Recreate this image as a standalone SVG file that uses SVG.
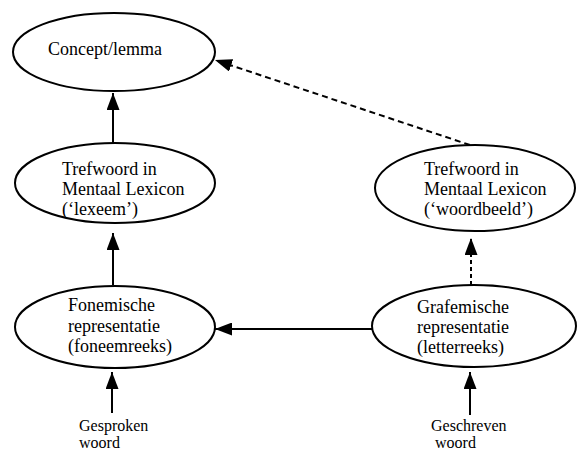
<svg xmlns="http://www.w3.org/2000/svg" width="584" height="454" viewBox="0 0 584 454">
<style>
.node ellipse{fill:#fff;stroke:#000;stroke-width:2}
text{font-family:"Liberation Serif","Times New Roman",serif;font-size:18px;fill:#000}
text.lbl{font-size:16px}
.edge{stroke:#000;stroke-width:2;fill:none}
.dash{stroke-dasharray:6 4}
.dot{stroke-dasharray:4 3}
</style>
<defs>
<marker id="ah" markerUnits="userSpaceOnUse" markerWidth="18" markerHeight="13" refX="17" refY="6.5" orient="auto">
<path d="M0,0 L17,6.5 L0,13 z" fill="#000"/>
</marker>
</defs>
<rect width="584" height="454" fill="#fff"/>
<g id="connectors">
<line class="edge" x1="113" y1="143" x2="113" y2="93" marker-end="url(#ah)"/>
<line class="edge" x1="113" y1="285" x2="113" y2="233" marker-end="url(#ah)"/>
<line class="edge" x1="112" y1="413" x2="112" y2="372" marker-end="url(#ah)"/>
<line class="edge" x1="372" y1="329" x2="215" y2="329" marker-end="url(#ah)"/>
<line class="edge" x1="470" y1="415" x2="470" y2="372" marker-end="url(#ah)"/>
<line class="edge dot" x1="471" y1="285" x2="471" y2="238" marker-end="url(#ah)"/>
<line class="edge dash" x1="470" y1="145" x2="215" y2="60" marker-end="url(#ah)"/>
</g>
<g id="concept" class="node">
<ellipse cx="114" cy="52" rx="101" ry="39"/>
<text x="48" y="55">Concept/lemma</text>
</g>
<g id="lexeem" class="node">
<ellipse cx="115" cy="183" rx="100" ry="40"/>
<text x="62" y="175">Trefwoord in</text>
<text x="62" y="195">Mentaal Lexicon</text>
<text x="62" y="215">(‘lexeem’)</text>
</g>
<g id="woordbeeld" class="node">
<ellipse cx="475" cy="188" rx="100" ry="43"/>
<text x="424" y="175">Trefwoord in</text>
<text x="424" y="195">Mentaal Lexicon</text>
<text x="424" y="215">(‘woordbeeld’)</text>
</g>
<g id="fonemisch" class="node">
<ellipse cx="115" cy="327" rx="100" ry="41"/>
<text x="68" y="311">Fonemische</text>
<text x="68" y="332">representatie</text>
<text x="68" y="352">(foneemreeks)</text>
</g>
<g id="grafemisch" class="node">
<ellipse cx="474" cy="326" rx="102" ry="41"/>
<text x="417" y="313">Grafemische</text>
<text x="417" y="333">representatie</text>
<text x="417" y="353">(letterreeks)</text>
</g>
<g id="gesproken">
<text class="lbl" x="79" y="431">Gesproken</text>
<text class="lbl" x="79" y="448">woord</text>
</g>
<g id="geschreven">
<text class="lbl" x="431" y="431">Geschreven</text>
<text class="lbl" x="435" y="448">woord</text>
</g>
</svg>
